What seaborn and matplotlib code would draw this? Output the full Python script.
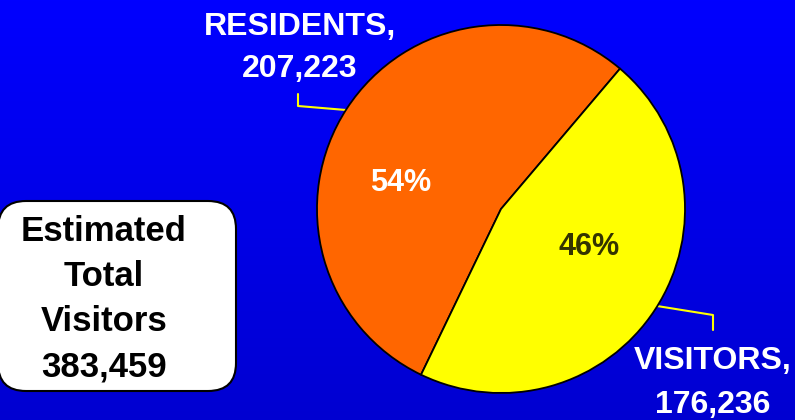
import numpy as np
import matplotlib
matplotlib.use("Agg")
import matplotlib.pyplot as plt
import seaborn as sns
from matplotlib.patches import FancyBboxPatch

categories = ["RESIDENTS", "VISITORS"]
counts = [207223, 176236]
pct_labels = ["54%", "46%"]
total_label = "Estimated\nTotal\nVisitors\n383,459"

sns.set_theme(style="white")
plt.rcParams['font.family'] = ['Liberation Sans', 'DejaVu Sans']

fig = plt.figure(figsize=(7.95, 4.20), dpi=100)
ax = fig.add_axes([0, 0, 1, 1])

# blue gradient background, darker at the top
grad = np.linspace(0, 1, 256).reshape(-1, 1)
bg = np.zeros((256, 1, 3))
bg[..., 2] = 0.82 + 0.18 * grad
ax.imshow(bg, extent=[0, 795, 420, 0], aspect="auto", zorder=0, origin="upper")

wedges, _ = ax.pie(counts, colors=["#FF6600", "#FFFF00"], startangle=49.7,
                   center=(501, 211), radius=184, frame=True,
                   wedgeprops=dict(edgecolor="black", linewidth=1.3))
for w in wedges:
    w.set_zorder(2)
ax.set_xlim(0, 795)
ax.set_ylim(0, 420)
ax.set_aspect("equal")
ax.axis("off")

# percentages inside
ax.text(401, 420 - 183, pct_labels[0], color="white", fontsize=22,
        fontweight="bold", ha="center", va="center", zorder=3)
ax.text(589, 420 - 247, pct_labels[1], color="#333300", fontsize=22,
        fontweight="bold", ha="center", va="center", zorder=3)

# outside labels with yellow leaders
ax.text(300, 420 - 48, f"{categories[0]},\n{counts[0]:,}", color="white",
        fontsize=23, fontweight="bold", ha="center", va="center",
        linespacing=1.56, zorder=3)
ax.plot([298, 298, 346], [420 - 94, 420 - 106, 420 - 110], color="#FFFF00",
        lw=1.5, zorder=1)

ax.text(713, 420 - 383, f"{categories[1]},\n{counts[1]:,}", color="white",
        fontsize=23, fontweight="bold", ha="center", va="center",
        linespacing=1.57, zorder=3)
ax.plot([657, 713, 713], [420 - 306, 420 - 315, 420 - 330], color="#FFFF00",
        lw=1.5, zorder=1)

# total box
box = FancyBboxPatch((-2, 420 - 391), 238, 190,
                     boxstyle="round,pad=0,rounding_size=28",
                     facecolor="white", edgecolor="black", lw=1.5, zorder=3)
ax.add_patch(box)
ax.text(104, 420 - 299, total_label, color="black", fontsize=25,
        fontweight="bold", ha="center", va="center", linespacing=1.47,
        zorder=4)

fig.savefig("out.png", dpi=100)
